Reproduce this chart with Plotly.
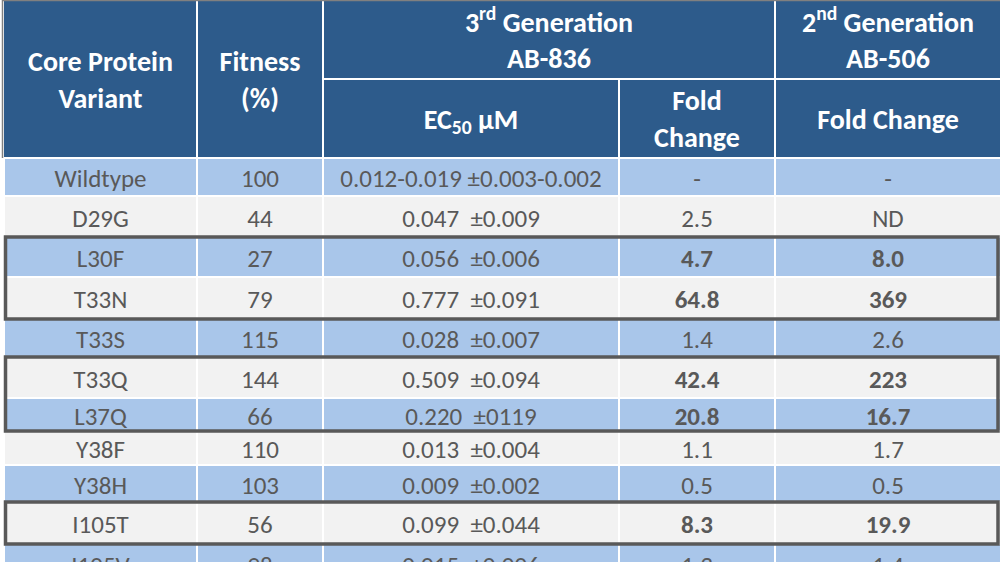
import plotly.graph_objects as go

# table contents
variants = ["Wildtype", "D29G", "L30F", "T33N", "T33S", "T33Q", "L37Q",
            "Y38F", "Y38H", "I105T", "I105V"]
fitness = ["100", "44", "27", "79", "115", "144", "66", "110", "103", "56", "98"]
ec50 = ["0.012-0.019 ±0.003-0.002", "0.047  ±0.009", "0.056  ±0.006",
        "0.777  ±0.091", "0.028  ±0.007", "0.509  ±0.094", "0.220  ±0119",
        "0.013  ±0.004", "0.009  ±0.002", "0.099  ±0.044", "0.015  ±0.006"]
fold_ab836 = ["-", "2.5", "4.7", "64.8", "1.4", "42.4", "20.8", "1.1", "0.5", "8.3", "1.3"]
fold_ab506 = ["-", "ND", "8.0", "369", "2.6", "223", "16.7", "1.7", "0.5", "19.9", "1.4"]
boxed_groups = [["L30F", "T33N"], ["T33Q", "L37Q"], ["I105T"]]

# layout in pixels
col_edges = [4, 197, 323, 619, 775, 1001]
head_edges = [1, 79, 158]
row_heights = [38, 41, 40, 42, 38, 41, 33, 34, 37, 42, 40]
text_drop = 4  # Calibri-like baseline sits a little low in each cell

FONT = "Carlito, Calibri, Lato, sans-serif"
HEAD_BLUE = "#2D5B8B"
ROW_BLUE = "#A9C6EA"
ROW_GREY = "#F2F2F2"
TEXT = "#595959"

row_edges = [head_edges[-1]]
for h in row_heights:
    row_edges.append(row_edges[-1] + h)
row_mid = [(row_edges[i] + row_edges[i + 1]) / 2 + text_drop for i in range(len(variants))]
col_mid = [(col_edges[i] + col_edges[i + 1]) / 2 for i in range(5)]
boxed = [v for g in boxed_groups for v in g]

shapes = []


def cell(x0, x1, y0, y1, color):
    shapes.append(dict(type="rect", xref="x", yref="y", x0=x0 + 1, x1=x1 - 1,
                       y0=y0 + 1, y1=y1 - 1, fillcolor=color, line_width=0,
                       layer="below"))


# header cells
cell(col_edges[0] - 1, col_edges[1], head_edges[0] - 1, head_edges[2], HEAD_BLUE)
cell(col_edges[1], col_edges[2], head_edges[0] - 1, head_edges[2], HEAD_BLUE)
cell(col_edges[2], col_edges[4], head_edges[0] - 1, head_edges[1], HEAD_BLUE)
cell(col_edges[4], col_edges[5] + 2, head_edges[0] - 1, head_edges[1], HEAD_BLUE)
for c in range(2, 5):
    cell(col_edges[c], col_edges[c + 1] + (2 if c == 4 else 0),
         head_edges[1], head_edges[2], HEAD_BLUE)

# body cells
for r in range(len(variants)):
    color = ROW_BLUE if r % 2 == 0 else ROW_GREY
    for c in range(5):
        cell(col_edges[c], col_edges[c + 1] + (2 if c == 4 else 0),
             row_edges[r], row_edges[r + 1], color)

# thin grey frame on top / left of header
shapes.append(dict(type="line", xref="x", yref="y", x0=2, x1=1000, y0=0.5, y1=0.5,
                   line=dict(color="#808080", width=1.5)))
shapes.append(dict(type="line", xref="x", yref="y", x0=2.5, x1=2.5, y0=0, y1=head_edges[2],
                   line=dict(color="#808080", width=1.5)))

# dark boxes round highlighted variants
for g in boxed_groups:
    i0 = variants.index(g[0])
    i1 = variants.index(g[-1])
    shapes.append(dict(type="rect", xref="x", yref="y", x0=col_edges[0] + 1.5,
                       x1=col_edges[-1] - 3, y0=row_edges[i0], y1=row_edges[i1 + 1],
                       line=dict(color="#595959", width=3.5), layer="above"))

fig = go.Figure()

columns = [variants, fitness, ec50, fold_ab836, fold_ab506]
for c, values in enumerate(columns):
    texts = []
    for v, t in zip(variants, values):
        t = t.replace("  ", "\u00a0\u00a0")
        if c >= 3 and v in boxed:
            t = "<b>" + t + "</b>"
        texts.append(t)
    fig.add_trace(go.Scatter(
        x=[col_mid[c]] * len(values), y=row_mid, text=texts, mode="text",
        textposition="middle center", hoverinfo="skip", cliponaxis=True,
        textfont=dict(family=FONT, size=25, color=TEXT)))

head_text = ["<b>Core Protein<br>Variant</b>", "<b>Fitness<br>(%)</b>",
             "<b>3<sup>rd</sup> Generation<br>AB-836</b>",
             "<b>2<sup>nd</sup> Generation<br>AB-506</b>",
             "<b>EC<sub>50</sub> μM</b>", "<b>Fold<br>Change</b>", "<b>Fold Change</b>"]
head_top = (head_edges[0] + head_edges[1]) / 2 + 3
head_bot = (head_edges[1] + head_edges[2]) / 2 + 3
head_full = (head_edges[0] + head_edges[2]) / 2 + 3
head_x = [col_mid[0], col_mid[1], (col_edges[2] + col_edges[4]) / 2, col_mid[4],
          col_mid[2], col_mid[3], col_mid[4]]
head_y = [head_full, head_full, head_top, head_top, head_bot, head_bot, head_bot]
fig.add_trace(go.Scatter(
    x=head_x, y=head_y, text=head_text, mode="text", textposition="middle center",
    hoverinfo="skip", textfont=dict(family=FONT, size=28, color="white")))

fig.update_layout(
    width=1000, height=562, margin=dict(l=0, r=0, t=0, b=0),
    paper_bgcolor="white", plot_bgcolor="white", showlegend=False,
    shapes=shapes,
    xaxis=dict(range=[0, 1000], visible=False, fixedrange=True),
    yaxis=dict(range=[562, 0], visible=False, fixedrange=True),
)

fig.write_html("out.html", config={"displayModeBar": False},
               post_script="document.body.style.margin='0';"
                           "document.body.style.overflow='hidden';")
